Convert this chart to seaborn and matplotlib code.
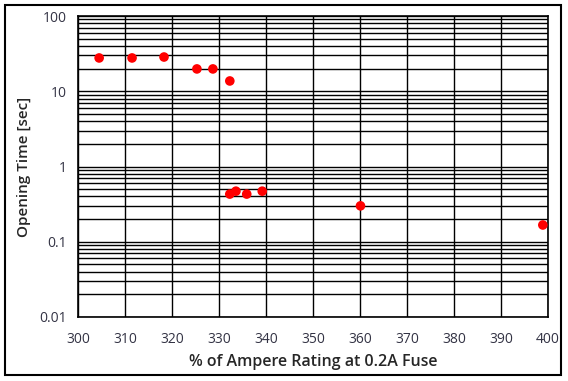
import numpy as np
import pandas as pd
import matplotlib
matplotlib.use('Agg')
import matplotlib.pyplot as plt
import seaborn as sns
from matplotlib.patches import Rectangle
from matplotlib.ticker import FixedLocator, LogLocator, NullFormatter

# Données
pourcentage = [304.5, 311.5, 318.3, 325.3, 328.7, 332.3, 332.3, 333.6, 335.9, 339.2, 360.1, 398.9]
temps_ouverture = [27.7, 27.7, 28.5, 19.8, 19.8, 13.7, 0.43, 0.47, 0.43, 0.47, 0.30, 0.167]
x_ticks = [300, 310, 320, 330, 340, 350, 360, 370, 380, 390, 400]
y_ticks = [0.01, 0.1, 1, 10, 100]
y_tick_labels = ['0.01', '0.1', '1', '10', '100']

df = pd.DataFrame({'pct': pourcentage, 'temps': temps_ouverture})

sns.set_style('white')
plt.rcParams['font.family'] = ['Open Sans', 'DejaVu Sans']

fig = plt.figure(figsize=(5.68, 3.81), dpi=100)
ax = fig.add_axes([78 / 568, 1 - 317 / 381, 470 / 568, 301 / 381])

sns.scatterplot(data=df, x='pct', y='temps', ax=ax, color='#ff0000',
                s=48, edgecolor='none', zorder=3)

ax.set_yscale('log')
ax.set_xlim(300, 400)
ax.set_ylim(0.01, 100)

ax.xaxis.set_major_locator(FixedLocator(x_ticks))
ax.set_xticklabels([str(t) for t in x_ticks])
ax.set_yticks(y_ticks)
ax.set_yticklabels(y_tick_labels)
ax.yaxis.set_minor_locator(LogLocator(base=10, subs=np.arange(2, 10)))
ax.yaxis.set_minor_formatter(NullFormatter())

ax.grid(True, which='major', axis='both', color='black', linewidth=1)
ax.grid(True, which='minor', axis='y', color='black', linewidth=1)
ax.set_axisbelow(True)
ax.tick_params(axis='both', which='both', length=0, labelsize=10, labelcolor='#333344')
ax.tick_params(axis='x', pad=11)
ax.tick_params(axis='y', pad=8)

for sp in ax.spines.values():
    sp.set_color('black')
    sp.set_linewidth(1.2)

ax.set_xlabel('% of Ampere Rating at 0.2A Fuse', fontsize=11.5, fontweight='semibold', labelpad=5)
ax.set_ylabel('Opening Time [sec]', fontsize=11, fontweight='semibold', labelpad=6)

fig.patches.append(Rectangle((5 / 568, 1 - 375 / 381), 556 / 568, 370 / 381,
                             transform=fig.transFigure, fill=False,
                             edgecolor='black', linewidth=1.5))

fig.savefig('out.png', dpi=100)
